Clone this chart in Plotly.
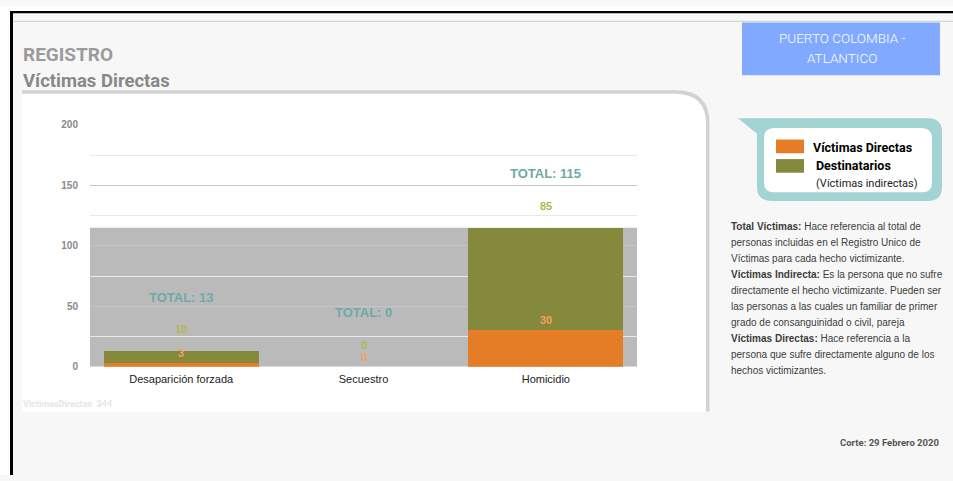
import plotly.graph_objects as go

# ---------------- data ----------------
categories = ["Desaparición forzada", "Secuestro", "Homicidio"]
victimas_directas = [3, 0, 30]
destinatarios = [10, 0, 85]
totales = [a + b for a, b in zip(victimas_directas, destinatarios)]
y_ticks = [0, 50, 100, 150, 200]

title_1 = "REGISTRO"
title_2 = "Víctimas Directas"
place_lines = ["PUERTO COLOMBIA -", "ATLANTICO"]
legend_items = ["Víctimas Directas", "Destinatarios"]
legend_sub = "(Víctimas indirectas)"
notes = [
    "<b>Total Víctimas:</b> Hace referencia al total de",
    "personas incluidas en el Registro Unico de",
    "Víctimas para cada hecho victimizante.",
    "<b>Víctimas Indirecta:</b> Es la persona que no sufre",
    "directamente el hecho victimizante. Pueden ser",
    "las personas a las cuales un familiar de primer",
    "grado de consanguinidad o civil, pareja",
    "<b>Víctimas Directas:</b> Hace referencia a la",
    "persona que sufre directamente alguno de los",
    "hechos victimizantes.",
]
footer = "Corte: 29 Febrero 2020"
faint = "VictimasDirectas  344"

W, H = 953, 481
ORANGE = "#e57c26"
GREEN = "#84893c"
TEAL = "#a3d4d4"


def px(x):
    return x / W


def py(y):
    return 1 - y / H


def path(cmds):
    out = []
    for c in cmds:
        op = c[0]
        nums = c[1:]
        pts = []
        for i in range(0, len(nums), 2):
            pts.append(f"{px(nums[i]):.5f},{py(nums[i+1]):.5f}")
        out.append(op + " " + " ".join(pts))
    return " ".join(out) + " Z"


fig = go.Figure()
fig.add_trace(go.Bar(x=categories, y=victimas_directas, name=legend_items[0],
                     marker=dict(color=ORANGE, line=dict(width=0)), width=0.85,
                     hoverinfo="skip"))
fig.add_trace(go.Bar(x=categories, y=destinatarios, name=legend_items[1],
                     marker=dict(color=GREEN, line=dict(width=0)), width=0.85,
                     hoverinfo="skip"))

shapes = []
# white strips / frame
shapes.append(dict(type="rect", xref="paper", yref="paper", x0=0, x1=1, y0=py(5), y1=1,
                   fillcolor="white", line_width=0, layer="below"))
shapes.append(dict(type="rect", xref="paper", yref="paper", x0=0, x1=px(10), y0=0, y1=1,
                   fillcolor="white", line_width=0, layer="below"))
shapes.append(dict(type="rect", xref="paper", yref="paper", x0=px(10), x1=1, y0=py(7.5), y1=py(5),
                   fillcolor="black", line_width=0, layer="above"))
shapes.append(dict(type="rect", xref="paper", yref="paper", x0=px(10), x1=px(13), y0=0, y1=py(5),
                   fillcolor="black", line_width=0, layer="above"))
shapes.append(dict(type="rect", xref="paper", yref="paper", x0=px(13), x1=1, y0=py(16.5), y1=py(15.2),
                   fillcolor="#d6d6d6", line_width=0, layer="below"))
# panel shadow + panel
shapes.append(dict(type="path", xref="paper", yref="paper", layer="below",
                   path=path([("M", 22, 86.5), ("L", 676, 86.5), ("Q", 709.5, 86.5, 709.5, 120),
                              ("L", 709.5, 416), ("L", 22, 416)]),
                   fillcolor="#d2d2d2", line_width=0))
shapes.append(dict(type="path", xref="paper", yref="paper", layer="below",
                   path=path([("M", 22, 90), ("L", 675, 90), ("Q", 706, 90, 706, 121),
                              ("L", 706, 416.5), ("L", 22, 416.5)]),
                   fillcolor="white", line_width=0))
# blue place box
shapes.append(dict(type="rect", xref="paper", yref="paper", x0=px(742), x1=px(940), y0=py(71), y1=py(17),
                   fillcolor="#80a9ff", line_width=0, layer="below"))
# legend callout
shapes.append(dict(type="path", xref="paper", yref="paper", layer="below",
                   path=path([("M", 738, 115), ("L", 928, 115), ("Q", 942, 115, 942, 129),
                              ("L", 942, 186), ("Q", 942, 200, 928, 200), ("L", 772, 200),
                              ("Q", 757, 200, 757, 186), ("L", 757, 131)]),
                   fillcolor=TEAL, line_width=0))
shapes.append(dict(type="path", xref="paper", yref="paper", layer="below",
                   path=path([("M", 774, 125), ("L", 921, 125), ("Q", 932, 125, 932, 136),
                              ("L", 932, 181), ("Q", 932, 191, 922, 191), ("L", 774, 191),
                              ("Q", 764, 191, 764, 181), ("L", 764, 136), ("Q", 764, 125, 774, 125)]),
                   fillcolor="white", line_width=0))
# legend swatches
shapes.append(dict(type="rect", xref="paper", yref="paper", x0=px(776), x1=px(804), y0=py(151), y1=py(137),
                   fillcolor=ORANGE, line_width=0, layer="above"))
shapes.append(dict(type="rect", xref="paper", yref="paper", x0=px(776), x1=px(804), y0=py(171), y1=py(157),
                   fillcolor=GREEN, line_width=0, layer="above"))
# gray band behind bars up to the largest total
shapes.append(dict(type="rect", xref="x domain", yref="y", x0=0, x1=1, y0=0, y1=max(totales),
                   fillcolor="#bababa", line_width=0, layer="below"))

ann = []
LBL = "Liberation Sans, Arial, sans-serif"
ROB = "Roboto, sans-serif"
for c, d, t in zip(categories, victimas_directas, totales):
    ann.append(dict(x=c, y=d, xref="x", yref="y", text=str(d), showarrow=False,
                    yanchor="middle", yshift=10,
                    font=dict(family=LBL, size=11, color="#f2a25e", weight="bold")))
    ann.append(dict(x=c, y=t, xref="x", yref="y", text=str(t - d), showarrow=False,
                    yanchor="middle", yshift=22,
                    font=dict(family=LBL, size=11, color="#b3b64e", weight="bold")))
    ann.append(dict(x=c, y=t, xref="x", yref="y", text=f"TOTAL: {t}", showarrow=False,
                    yanchor="middle", yshift=54,
                    font=dict(family=LBL, size=13, color="#6eaaa8", weight="bold")))

ann.append(dict(x=px(21), y=py(50), xref="paper", yref="paper", text=title_1, showarrow=False,
                xanchor="left", yanchor="middle",
                font=dict(family=ROB, size=19, color="#9b9b9b", weight="bold")))
ann.append(dict(x=px(21), y=py(77), xref="paper", yref="paper", text=title_2, showarrow=False,
                xanchor="left", yanchor="middle",
                font=dict(family=ROB, size=18.5, color="#888888", weight="bold")))
for i, line in enumerate(place_lines):
    ann.append(dict(x=px(842), y=py(33 + 20 * i), xref="paper", yref="paper", text=line, showarrow=False,
                    xanchor="center", yanchor="middle",
                    font=dict(family=ROB, size=13.5, color="white", weight=300)))
ann.append(dict(x=px(811), y=py(145), xref="paper", yref="paper", text=legend_items[0], showarrow=False,
                xanchor="left", yanchor="middle",
                font=dict(family=ROB, size=12.5, color="black", weight="bold")))
ann.append(dict(x=px(814), y=py(164), xref="paper", yref="paper", text=legend_items[1], showarrow=False,
                xanchor="left", yanchor="middle",
                font=dict(family=ROB, size=12.5, color="black", weight="bold")))
ann.append(dict(x=px(814), y=py(182), xref="paper", yref="paper", text=legend_sub, showarrow=False,
                xanchor="left", yanchor="middle",
                font=dict(family=ROB, size=11, color="#222222")))
for i, line in enumerate(notes):
    ann.append(dict(x=px(729), y=py(226 + 16.4 * i), xref="paper", yref="paper", text=line,
                    showarrow=False, xanchor="left", yanchor="middle",
                    font=dict(family=LBL, size=10, color="#3c3c3c")))
ann.append(dict(x=px(941), y=py(448), xref="paper", yref="paper", text=footer, showarrow=False,
                xanchor="right", yanchor="middle",
                font=dict(family=ROB, size=9.5, color="#555555", weight="bold")))
ann.append(dict(x=px(21), y=py(408), xref="paper", yref="paper", text=faint, showarrow=False,
                xanchor="left", yanchor="middle",
                font=dict(family=ROB, size=9, color="#e6e6e6", weight="bold")))

fig.update_layout(
    width=W, height=H,
    margin=dict(l=0, r=0, t=0, b=0),
    paper_bgcolor="#f7f7f7",
    plot_bgcolor="rgba(0,0,0,0)",
    barmode="stack",
    bargap=0.15,
    showlegend=False,
    shapes=shapes,
    annotations=ann,
    xaxis=dict(domain=[px(90), px(637)], showgrid=False, zeroline=False, showline=False,
               ticklabelstandoff=4,
               tickfont=dict(family=LBL, size=11, color="#222222"), fixedrange=True),
    yaxis=dict(domain=[py(370), py(122)], range=[0, 200], tickvals=y_ticks,
               showgrid=True, gridcolor="#c6c6c6", gridwidth=1,
               minor=dict(dtick=25, showgrid=True, gridcolor="#e9e9e9", gridwidth=1),
               zeroline=False, showline=False, ticklabelstandoff=11,
               tickfont=dict(family=LBL, size=10, color="#8a8a8a", weight="bold"), fixedrange=True),
)

fig.write_html(
    "out.html", config={"displayModeBar": False, "staticPlot": True},
    post_script=(
        "document.documentElement.style.margin='0';document.body.style.margin='0';"
        "document.body.style.overflow='hidden';"
        "var gd=document.getElementById('{plot_id}');"
        "gd.style.position='fixed';gd.style.top='0px';gd.style.left='0px';"
    ),
)
